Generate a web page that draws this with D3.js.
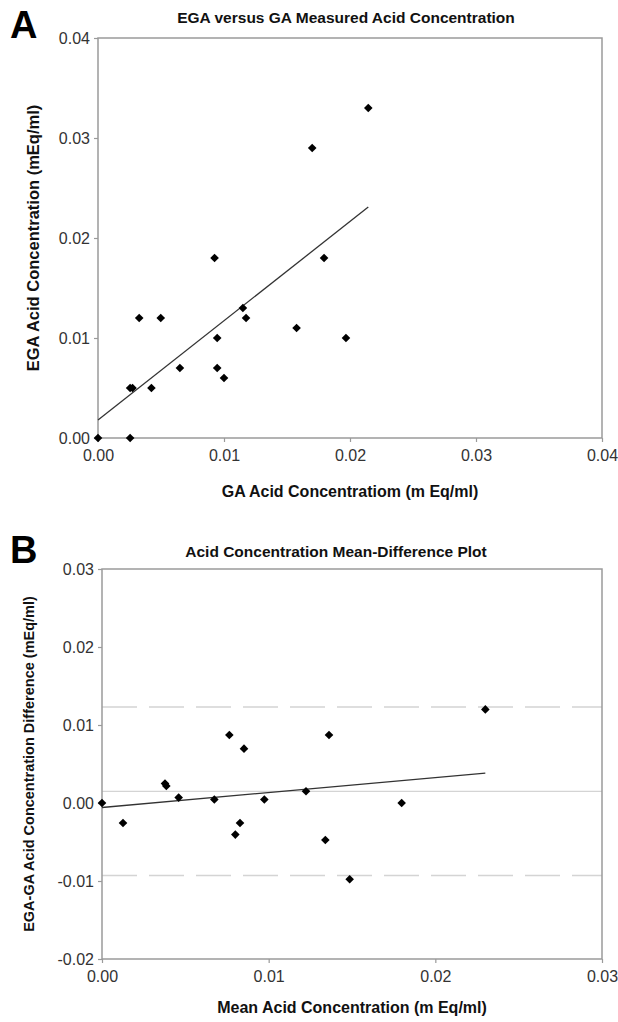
<!DOCTYPE html>
<html>
<head>
<meta charset="utf-8">
<script src="https://cdn.jsdelivr.net/npm/d3@7"></script>
<style>
  body { margin: 0; background: #fff; }
  text { font-family: "Liberation Sans", Arial, sans-serif; }
</style>
</head>
<body>
<script>
// panel A: EGA vs GA (mEq/ml)
const gaA  = [0, 0.00255, 0.00255, 0.00274, 0.00327, 0.00498, 0.00424, 0.0065, 0.00925, 0.00946,
              0.00946, 0.0100, 0.0115, 0.01175, 0.01576, 0.01794, 0.01968, 0.0170, 0.02145];
const egaA = [0, 0, 0.005, 0.005, 0.012, 0.012, 0.005, 0.007, 0.018, 0.010,
              0.007, 0.006, 0.013, 0.012, 0.011, 0.018, 0.010, 0.029, 0.033];
const ticksA = [0, 0.01, 0.02, 0.03, 0.04];

// panel B: mean-difference
const meanB = [0, 0.00126, 0.00378, 0.00386, 0.0046, 0.00674, 0.00764, 0.0080, 0.00828,
               0.00852, 0.00974, 0.01224, 0.0134, 0.01362, 0.01486, 0.01798, 0.0230];
const diffB = [0, -0.00256, 0.00249, 0.00218, 0.00069, 0.00044, 0.00872, -0.00405, -0.00256,
               0.00697, 0.00044, 0.0015, -0.00474, 0.00872, -0.00978, 0, 0.0120];
const ticksBx = [0, 0.01, 0.02, 0.03];
const ticksBy = [-0.02, -0.01, 0, 0.01, 0.02, 0.03];
const meanDiff = 0.0015;
const upperLimit = 0.0123;
const lowerLimit = -0.0093;

const width = 618, height = 1022;
const fmt = d => d.toFixed(2);
const diamond = "M0,-4.3L4.3,0L0,4.3L-4.3,0Z";

const svg = d3.select("body").append("svg")
  .attr("width", width)
  .attr("height", height);

// least squares line
function fit(xs, ys) {
  const mx = d3.mean(xs), my = d3.mean(ys);
  let sxy = 0, sxx = 0;
  xs.forEach((x, i) => { sxy += (x - mx) * (ys[i] - my); sxx += (x - mx) ** 2; });
  const b = sxy / sxx;
  return { a: my - b * mx, b };
}

function panel({ letter, title, titleX, xLabel, yLabel, yLabelSize, xs, ys, xTicks, yTicks, box, letterY, titleY, xLabelY, yLabelX, extra }) {
  const x = d3.scaleLinear().domain(d3.extent(xTicks)).range([box.left, box.right]);
  const y = d3.scaleLinear().domain(d3.extent(yTicks)).range([box.bottom, box.top]);
  const g = svg.append("g");

  g.append("text")
    .attr("x", 10).attr("y", letterY)
    .attr("font-size", 38).attr("font-weight", "bold")
    .attr("fill", "#000")
    .text(letter);

  g.append("text")
    .attr("x", titleX).attr("y", titleY)
    .attr("text-anchor", "middle")
    .attr("font-size", 15.5).attr("font-weight", "bold")
    .attr("fill", "#111")
    .text(title);

  if (extra) extra(g, x, y);

  // plot area border
  g.append("rect")
    .attr("x", box.left).attr("y", box.top)
    .attr("width", box.right - box.left).attr("height", box.bottom - box.top)
    .attr("fill", "none").attr("stroke", "#9a9a9a").attr("stroke-width", 1.5);

  const yAxis = g.append("g")
    .attr("transform", `translate(${box.left},0)`)
    .call(d3.axisLeft(y).tickValues(yTicks).tickFormat(fmt).tickSize(4).tickPadding(4));
  const xAxis = g.append("g")
    .attr("transform", `translate(0,${box.bottom})`)
    .call(d3.axisBottom(x).tickValues(xTicks).tickFormat(fmt).tickSize(4).tickPadding(8));
  [xAxis, yAxis].forEach(ax => {
    ax.select(".domain").remove();
    ax.selectAll("line").attr("stroke", "#9a9a9a").attr("stroke-width", 1.2);
    ax.selectAll("text")
      .attr("font-size", 16).attr("fill", "#333")
      .style("font-family", '"Liberation Sans", Arial, sans-serif');
  });

  // trend line
  const { a, b } = fit(xs, ys);
  const x0 = d3.min(xs), x1 = d3.max(xs);
  g.append("line")
    .attr("x1", x(x0)).attr("y1", y(a + b * x0))
    .attr("x2", x(x1)).attr("y2", y(a + b * x1))
    .attr("stroke", "#333").attr("stroke-width", 1.3);

  g.append("g")
    .selectAll("path")
    .data(xs.map((v, i) => [v, ys[i]]))
    .join("path")
    .attr("d", diamond)
    .attr("transform", d => `translate(${x(d[0])},${y(d[1])})`)
    .attr("fill", "#000");

  g.append("text")
    .attr("x", (box.left + box.right) / 2).attr("y", xLabelY)
    .attr("text-anchor", "middle")
    .attr("font-size", 16).attr("font-weight", "bold")
    .attr("fill", "#111")
    .text(xLabel);

  g.append("text")
    .attr("transform", `translate(${yLabelX},${(box.top + box.bottom) / 2}) rotate(-90)`)
    .attr("text-anchor", "middle")
    .attr("font-size", yLabelSize).attr("font-weight", "bold")
    .attr("fill", "#111")
    .text(yLabel);
}

panel({
  letter: "A",
  title: "EGA versus GA Measured Acid Concentration",
  titleX: 346,
  xLabel: "GA Acid Concentratiom (m Eq/ml)",
  yLabel: "EGA Acid Concentration (mEq/ml)",
  yLabelSize: 16.5,
  xs: gaA, ys: egaA,
  xTicks: ticksA, yTicks: ticksA,
  box: { left: 98, right: 602, top: 38, bottom: 438 },
  letterY: 38, titleY: 23, xLabelY: 497, yLabelX: 39
});

panel({
  letter: "B",
  title: "Acid Concentration Mean-Difference Plot",
  titleX: 336,
  xLabel: "Mean Acid Concentration (m Eq/ml)",
  yLabel: "EGA-GA Acid Concentration Difference (mEq/ml)",
  yLabelSize: 14.5,
  xs: meanB, ys: diffB,
  xTicks: ticksBx, yTicks: ticksBy,
  box: { left: 102, right: 602, top: 569, bottom: 959 },
  letterY: 563, titleY: 557, xLabelY: 1013, yLabelX: 34,
  extra: (g, x, y) => {
    g.append("line")
      .attr("x1", x(0)).attr("x2", x(0.03))
      .attr("y1", y(meanDiff)).attr("y2", y(meanDiff))
      .attr("stroke", "#d4d4d4").attr("stroke-width", 1.3);
    g.selectAll("line.limit")
      .data([upperLimit, lowerLimit])
      .join("line")
      .attr("class", "limit")
      .attr("x1", x(0)).attr("x2", x(0.03))
      .attr("y1", d => y(d)).attr("y2", d => y(d))
      .attr("stroke", "#d4d4d4").attr("stroke-width", 1.5)
      .attr("stroke-dasharray", "35,12");
  }
});
</script>
</body>
</html>
